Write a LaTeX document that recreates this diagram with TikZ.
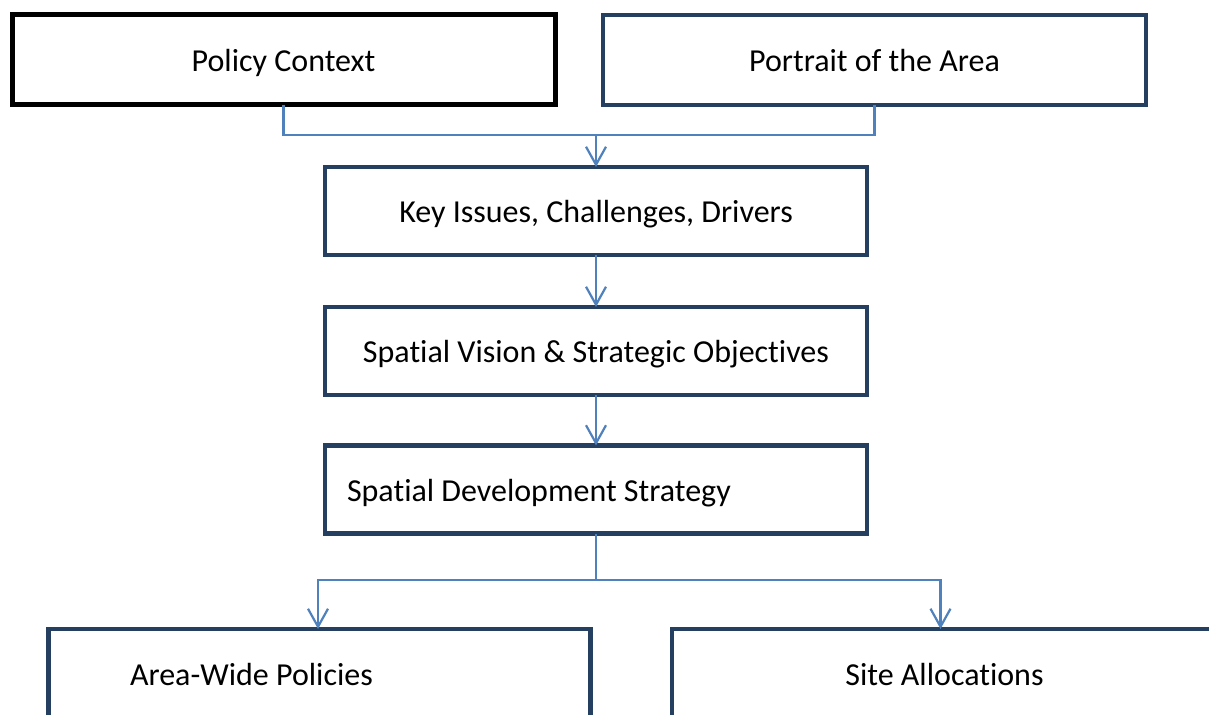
\documentclass[tikz,border=0pt]{standalone}
\usepackage{fontspec}
\setmainfont{Carlito}[RawFeature=-liga]
\usetikzlibrary{positioning, arrows.meta}
\definecolor{boxblue}{HTML}{243F60}
\definecolor{linkblue}{HTML}{4F81BD}

\begin{document}
\begin{tikzpicture}[x=0.5pt, y=-0.5pt]
\tikzstyle{every node}=[draw, shape=rectangle, line width=2.2pt, color=boxblue, text=black, inner sep=0pt, outer sep=0pt, minimum width=271pt, minimum height=44pt, text height=14pt, text depth=2.3pt, font=\fontsize{16}{19}\selectfont];
\tikzstyle{link}=[color=linkblue, line width=1.1pt, -{Straight Barb[length=9pt, width=10pt]}];
\clip (0,0) rectangle (1209,715);
\path (283.5,60) node [color=black, line width=2.5pt, minimum width=271.5pt, minimum height=45pt] (pc) {Policy Context};
\path (874.5,60) node [minimum width=271.5pt, minimum height=45pt] (pa) {Portrait of the Area};
\path (596,211) node (ki) {Key Issues, Challenges, Drivers};
\path (596,351) node (sv) {Spatial Vision \& Strategic Objectives};
\path (596,489.5) node [align=flush left, text width=249pt, inner xsep=11pt] (sd) {Spatial Development Strategy};
\path (319.5,674) node [align=flush left, text width=189.5pt, inner xsep=40.5pt, minimum height=45pt] (aw) {Area-Wide Policies};
\path (944.5,674) node [minimum width=272.5pt, minimum height=45pt] (sa) {Site Allocations};
\coordinate (top join) at (596,135);
\coordinate (split) at (596,580);
\draw [link] (pc.south) |- (top join) -- (ki.north);
\draw [link, -] (pa.south) |- (top join);
\draw [link] (ki.south) -- (sv.north);
\draw [link] (sv.south) -- (sd.north);
\draw [link, -] (sd.south) -- (split);
\draw [link] (split) -| ([xshift=-0.75pt]aw.north);
\draw [link] (split) -| ([xshift=-2pt]sa.north);
\end{tikzpicture}
\end{document}
